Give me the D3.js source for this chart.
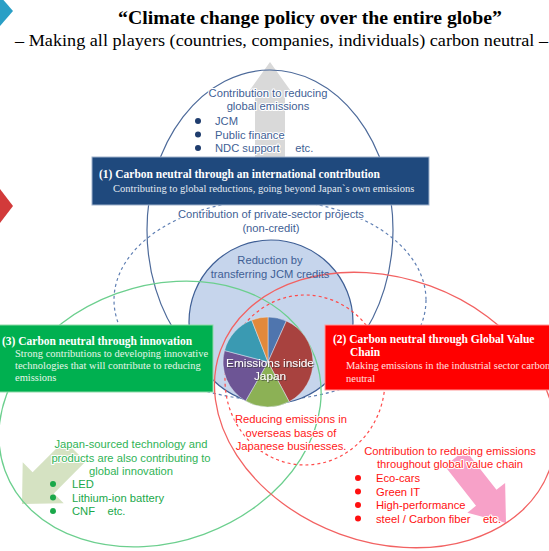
<!DOCTYPE html>
<html>
<head>
<meta charset="utf-8">
<script src="https://cdn.jsdelivr.net/npm/d3@7"></script>
<style>
body { margin: 0; background: #fff; }
svg { display: block; }
</style>
</head>
<body>
<script>
// text content
var title = "\u201cClimate change policy over the entire globe\u201d";
var subtitle = "\u2013 Making all players (countries, companies, individuals) carbon neutral \u2013";

var globalLines = ["Contribution to reducing", "global emissions"];
var globalItems = ["JCM", "Public finance", "NDC support     etc."];

var box1Lines = ["(1) Carbon neutral through an international contribution",
                 "Contributing to global reductions, going beyond Japan`s own emissions"];
var box2Lines = ["(2) Carbon neutral through Global Value", "Chain",
                 "Making emissions in the industrial sector carbon", "neutral"];
var box3Lines = ["(3) Carbon neutral through innovation",
                 "Strong contributions to developing innovative",
                 "technologies that will contribute to reducing", "emissions"];

var privateLines = ["Contribution of private-sector projects", "(non-credit)"];
var jcmLines = ["Reduction by", "transferring JCM credits"];
var insideLines = ["Emissions inside", "Japan"];
var overseasLines = ["Reducing emissions in", "overseas bases of", "Japanese businesses."];

var innovLines = ["Japan-sourced technology and", "products are also contributing to", "global innovation"];
var innovItems = ["LED", "Lithium-ion battery", "CNF    etc."];

var gvcLines = ["Contribution to reducing emissions", "throughout global value chain"];
var gvcItems = ["Eco-cars", "Green IT", "High-performance", "steel / Carbon fiber    etc."];

// pie shares of emissions inside Japan (clockwise from top)
var pieValues = [6.7, 35.5, 16.1, 20.8, 15.0, 5.9];

var W = 549, H = 551;
var sans = "'Liberation Sans', Arial, sans-serif";
var serif = "'Liberation Serif', 'Times New Roman', serif";
var fs = 11.2; // body text size

var svg = d3.select("body").append("svg")
    .attr("width", W).attr("height", H)
    .attr("viewBox", "0 0 " + W + " " + H);

// block arrow from (x1,y1) to tip (x2,y2)
function blockArrow(x1, y1, x2, y2, bw, hw, hl, fill) {
    var dx = x2 - x1, dy = y2 - y1, len = Math.sqrt(dx * dx + dy * dy);
    var ang = Math.atan2(dy, dx) * 180 / Math.PI;
    var pts = [[0, -bw / 2], [len - hl, -bw / 2], [len - hl, -hw / 2], [len, 0],
               [len - hl, hw / 2], [len - hl, bw / 2], [0, bw / 2]];
    svg.append("polygon")
        .attr("points", pts.map(function (p) { return p.join(","); }).join(" "))
        .attr("transform", "translate(" + x1 + "," + y1 + ") rotate(" + ang + ")")
        .attr("fill", fill);
}

function ellipse(cx, cy, rx, ry, rot, stroke, dash, w) {
    svg.append("ellipse")
        .attr("cx", 0).attr("cy", 0).attr("rx", rx).attr("ry", ry)
        .attr("transform", "translate(" + cx + "," + cy + ") rotate(" + rot + ")")
        .attr("fill", "none").attr("stroke", stroke)
        .attr("stroke-width", w || 1.2)
        .attr("stroke-dasharray", dash || null);
}

// left edge decorations
svg.append("polygon").attr("points", "0,-4 13,11 0,26").attr("fill", "#2a9fc6");
svg.append("polygon").attr("points", "0,189 13,206 0,223").attr("fill", "#d23a3a");

// gray arrow going up
blockArrow(270, 168, 270, 62, 30, 46, 32, "#d9d9d9");
// arrows in lower part
blockArrow(75, 451, 22, 504, 30, 58, 30, "#d5e2c2");
blockArrow(455, 458, 506, 523, 26, 48, 32, "#f7a1c8");

// outer blue ellipse + dashed private-sector ellipse
ellipse(270, 230, 123, 160, 0, "#4d6a9a", null, 1.2);
ellipse(270, 300, 156, 100, 0, "#5f7fb3", "3,3", 1.2);

// JCM credits circle
svg.append("circle").attr("cx", 271).attr("cy", 322).attr("r", 82)
    .attr("fill", "#c6d5ec").attr("stroke", "#3f5f95").attr("stroke-width", 1.2);

// innovation & value-chain ellipses
ellipse(160, 414, 165, 128, -20, "#6ccf8e", null, 1.3);
ellipse(385, 410, 175, 132, 20, "#f26262", null, 1.3);
ellipse(305, 380, 80, 85, 0, "#ff4a4a", "3,3", 1.2);

// pie
var pie = d3.pie().sort(null).value(function (d) { return d; });
var arc = d3.arc().innerRadius(0).outerRadius(45);
var color = d3.scaleOrdinal().domain(d3.range(pieValues.length))
    .range(["#4f75ae", "#a8423f", "#8cb155", "#6d5595", "#3a9ab2", "#e2893b"]);
svg.append("g").attr("transform", "translate(268,362)")
    .selectAll("path").data(pie(pieValues)).enter().append("path")
    .attr("d", arc)
    .attr("fill", function (d, i) { return color(i); })
    .attr("stroke", "#dfe6f2").attr("stroke-width", 0.5);

var defs = svg.append("defs");
defs.append("filter").attr("id", "shadow")
    .append("feDropShadow").attr("dx", 0.8).attr("dy", 0.8)
    .attr("stdDeviation", 0.6).attr("flood-color", "#333").attr("flood-opacity", 0.8);

// text helper
function lines(arr, x, y0, dy, opt) {
    var g = svg.append("g");
    g.selectAll("text").data(arr).enter().append("text")
        .attr("x", x)
        .attr("y", function (d, i) { return y0 + i * dy; })
        .attr("text-anchor", opt.anchor || "middle")
        .attr("font-family", opt.font || sans)
        .attr("font-size", opt.size)
        .attr("font-weight", opt.weight || "normal")
        .attr("fill", opt.fill)
        .attr("stroke", opt.halo || null)
        .attr("stroke-width", opt.halo ? 2.2 : null)
        .attr("stroke-linejoin", "round")
        .attr("paint-order", "stroke")
        .attr("filter", opt.filter || null)
        .attr("textLength", opt.len || null)
        .attr("lengthAdjust", opt.len ? "spacingAndGlyphs" : null)
        .style("white-space", "pre")
        .text(function (d) { return d; });
    return g;
}

function bullets(arr, xDot, xText, y0, dy, size, fill) {
    var g = svg.append("g");
    g.selectAll("circle").data(arr).enter().append("circle")
        .attr("cx", xDot).attr("cy", function (d, i) { return y0 + i * dy - size * 0.36; })
        .attr("r", 3).attr("fill", fill);
    lines(arr, xText, y0, dy, { anchor: "start", size: size, fill: fill, halo: "#fff" });
}

// title
lines([title], 310, 24, 0, { font: serif, size: 19.8, weight: "bold", fill: "#000" });
lines([subtitle], 15, 46, 0, { anchor: "start", font: serif, size: 16.5, fill: "#000", len: 533 });

// top global emission text
lines(globalLines, 268, 97, 13, { size: fs, fill: "#3f5f95", halo: "#fff" });
svg.append("g").selectAll("circle").data(globalItems).enter().append("circle")
    .attr("cx", 198).attr("cy", function (d, i) { return 121 + i * 13.5; })
    .attr("r", 3).attr("fill", "#1f3d6e");
lines(globalItems, 215, 125, 13.5, { anchor: "start", size: fs, fill: "#3f5f95", halo: "#fff" });

// box (1)
svg.append("rect").attr("x", 92).attr("y", 157).attr("width", 337).attr("height", 48)
    .attr("fill", "#1f497d").attr("stroke", "#9fb2cc").attr("stroke-width", 1);
lines([box1Lines[0]], 99, 178, 0, { anchor: "start", font: serif, size: 11.5, weight: "bold", fill: "#fff" });
lines([box1Lines[1]], 113, 192, 0, { anchor: "start", font: serif, size: 10.5, fill: "#e4e9f1" });

lines(privateLines, 271, 218, 14, { size: fs, fill: "#3f5f95", halo: "#fff" });
lines(jcmLines, 270, 264, 14, { size: fs, fill: "#3f5f95" });

// box (3)
svg.append("rect").attr("x", -2).attr("y", 325).attr("width", 215).attr("height", 67)
    .attr("fill", "#00b050").attr("stroke", "#8fdaa8").attr("stroke-width", 1);
lines([box3Lines[0]], 2, 345, 0, { anchor: "start", font: serif, size: 11.5, weight: "bold", fill: "#fff" });
lines(box3Lines.slice(1), 15, 357, 12, { anchor: "start", font: serif, size: 10.5, fill: "#e6f6ea" });

// box (2)
svg.append("rect").attr("x", 325).attr("y", 325).attr("width", 230).attr("height", 65)
    .attr("fill", "#ff0000").attr("stroke", "#ff9a9a").attr("stroke-width", 1);
lines([box2Lines[0]], 333, 343, 0, { anchor: "start", font: serif, size: 11.5, weight: "bold", fill: "#fff" });
lines([box2Lines[1]], 350, 356, 0, { anchor: "start", font: serif, size: 11.5, weight: "bold", fill: "#fff" });
lines(box2Lines.slice(2), 346, 369, 13, { anchor: "start", font: serif, size: 10.5, fill: "#ffe0e0" });

// inside Japan label
lines(insideLines, 270, 367, 13, { size: 11.8, fill: "#fff", filter: "url(#shadow)" });

// overseas
lines(overseasLines, 291, 423, 13.5, { size: fs, fill: "#ff2020", halo: "#fff" });

// innovation
lines(innovLines, 131, 448, 13.5, { size: fs, fill: "#2fb356", halo: "#fff" });
bullets(innovItems, 53, 72, 488, 13.5, fs, "#1aa84a");

// value chain
lines(gvcLines, 450, 455, 13, { size: fs, fill: "#ff2020", halo: "#fff" });
bullets(gvcItems, 358, 376, 482, 13.5, fs, "#ff1010");
</script>
</body>
</html>
